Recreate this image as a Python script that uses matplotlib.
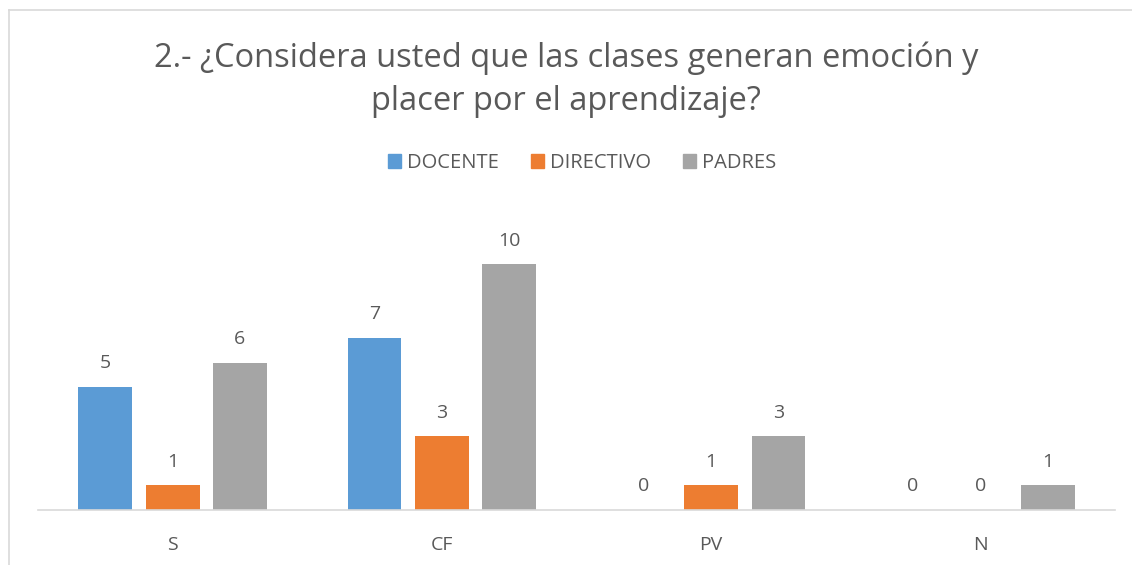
import numpy as np
import matplotlib.pyplot as plt
from matplotlib.patches import Patch
from matplotlib.lines import Line2D

# Data
categories = ['S', 'CF', 'PV', 'N']
series_names = ['DOCENTE', 'DIRECTIVO', 'PADRES']
docente = [5, 7, 0, 0]
directivo = [1, 3, 1, 0]
padres = [6, 10, 3, 1]

colors = ['#5B9BD5', '#ED7D31', '#A5A5A5']
text_color = '#595959'

plt.rcParams['font.family'] = ['Open Sans', 'DejaVu Sans']

W, H = 1132, 565
fig = plt.figure(figsize=(W / 100, H / 100), dpi=100)

# chart border (only top and left visible in the reference)
fig.add_artist(Line2D([9 / W, 9 / W], [0, 1 - 10 / H], color='#d9d9d9', lw=1.2))
fig.add_artist(Line2D([9 / W, 1], [1 - 10 / H, 1 - 10 / H], color='#d9d9d9', lw=1.2))

ax = fig.add_axes([38 / W, 1 - 510 / H, (1115 - 38) / W, (510 - 215) / H])

x = np.arange(len(categories))
width = 0.2
step = 0.25
for i, (name, vals) in enumerate(zip(series_names, [docente, directivo, padres])):
    pos = x + (i - 1) * step
    ax.bar(pos, vals, width, color=colors[i], label=name)
    for px, v in zip(pos, vals):
        ax.annotate(str(v), (px, v), xytext=(0, 17), textcoords='offset points',
                    ha='center', va='center', fontsize=14, color=text_color)

ax.set_xlim(-0.5, len(categories) - 0.5)
ax.set_ylim(0, 12)
ax.set_xticks(x)
ax.set_xticklabels(categories, fontsize=14, color=text_color)
ax.tick_params(axis='x', length=0, pad=19)
ax.set_yticks([])
for side in ['top', 'right', 'left']:
    ax.spines[side].set_visible(False)
ax.spines['bottom'].set_color('#d9d9d9')
ax.spines['bottom'].set_linewidth(1.2)

fig.text(0.5, 1 - 58 / H, '2.- ¿Considera usted que las clases generan emoción y',
         ha='center', va='center', fontsize=23.5, color=text_color)
fig.text(0.5, 1 - 101 / H, 'placer por el aprendizaje?',
         ha='center', va='center', fontsize=23.5, color=text_color)

handles = [Patch(color=c, label=n) for c, n in zip(colors, series_names)]
fig.legend(handles=handles, loc='center', bbox_to_anchor=(582 / W, 1 - 163 / H),
           ncol=3, frameon=False, fontsize=14.5, handlelength=0.65, handleheight=0.65,
           handletextpad=0.3, columnspacing=1.6, labelcolor=text_color)

fig.savefig('out.png', dpi=100)
